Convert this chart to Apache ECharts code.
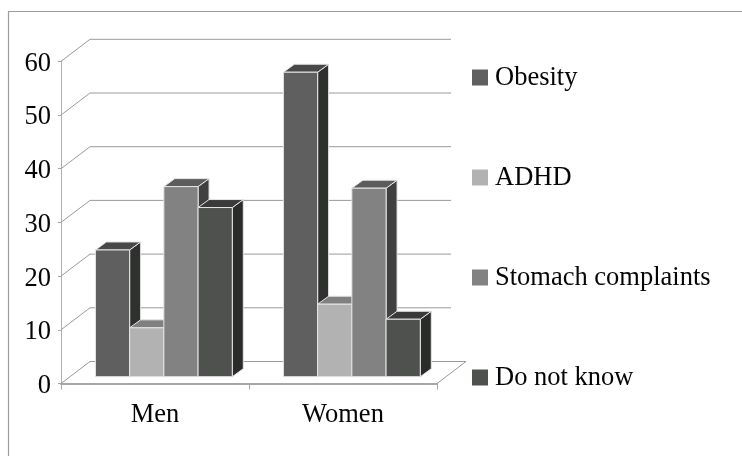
<!DOCTYPE html>
<html>
<head>
<meta charset="utf-8">
<style>html,body{margin:0;padding:0;background:#fff}#chart{width:742px;height:456px}</style>
<script src="https://cdn.jsdelivr.net/npm/echarts@6/dist/echarts.min.js"></script>
</head>
<body>
<div id="chart"></div>
<script>
// Survey answers by gender, percent of respondents
const categories = ['Men', 'Women'];
const yTicks = [0, 10, 20, 30, 40, 50, 60];
const seriesNames = ['Obesity', 'ADHD', 'Stomach complaints', 'Do not know'];
const obesity = [23.6, 56.7];
const adhd = [9.1, 13.5];
const stomachComplaints = [35.4, 35.1];
const doNotKnow = [31.5, 10.7];
const seriesValues = [obesity, adhd, stomachComplaints, doNotKnow];

// Face shades per series: front, top, side
const frontColors = ['#5f5f5f', '#b2b2b2', '#818281', '#4f514f'];
const topColors = ['#484848', '#808080', '#5c5c5c', '#3a3a3a'];
const sideColors = ['#2f312f', '#5a5a5a', '#404040', '#2a2c2a'];

const FONT = '"Liberation Serif", "Times New Roman", serif';
const LABEL_SIZE = 26.5;
const TEXT_COLOR = '#050505';
const WALL_DX = 29, WALL_DY = 22, WALL_END = 451;
const BAR_DX = 11, BAR_DY = 8;
const SHIFT_X = 8.85, SHIFT_Y = 6.8;
const BAR_RATIO = 0.182;

// Back wall gridlines and the floor outline, in oblique projection
function renderWall(params, api) {
  const cs = params.coordSys;
  const y = api.coord([0, api.value(1)])[1];
  const x0 = cs.x;
  const isFloor = api.value(1) === 0;
  const line = { stroke: '#9a9a9a', lineWidth: 1 };
  const children = [
    { type: 'polyline', shape: { points: [[x0, y], [x0 + WALL_DX, y - WALL_DY],
      [isFloor ? x0 + cs.width + WALL_DX : WALL_END, y - WALL_DY]] }, style: { fill: null, ...line } }
  ];
  if (isFloor) {
    children.push({ type: 'line', shape: { x1: x0 + cs.width, y1: y, x2: x0 + cs.width + WALL_DX, y2: y - WALL_DY }, style: line });
  }
  return { type: 'group', children };
}

// One box: front, top and side faces
function boxRenderer(index) {
  return function (params, api) {
    const cat = api.value(0);
    const top = api.coord([cat, api.value(1)]);
    const base = api.coord([cat, 0]);
    const w = api.size([1, 0])[0] * BAR_RATIO;
    const x = base[0] + SHIFT_X - 2 * w + index * w;
    const y = top[1] - SHIFT_Y;
    const b = base[1] - SHIFT_Y;
    const edge = { stroke: '#e6e6e6', lineWidth: 1, lineJoin: 'round' };
    return {
      type: 'group',
      children: [
        { type: 'polygon', shape: { points: [[x + w, y], [x + w + BAR_DX, y - BAR_DY], [x + w + BAR_DX, b - BAR_DY], [x + w, b]] },
          style: { fill: sideColors[index], ...edge } },
        { type: 'polygon', shape: { points: [[x, y], [x + BAR_DX, y - BAR_DY], [x + w + BAR_DX, y - BAR_DY], [x + w, y]] },
          style: { fill: topColors[index], ...edge } },
        { type: 'rect', shape: { x, y, width: w, height: b - y },
          style: { fill: frontColors[index], ...edge } }
      ]
    };
  };
}

const chart = echarts.init(document.getElementById('chart'), null, { renderer: 'canvas' });
chart.setOption({
  animation: false,
  backgroundColor: '#fff',
  color: frontColors,
  textStyle: { fontFamily: FONT },
  // Frame runs off the right and bottom of the page
  graphic: [{
    type: 'rect', silent: true, z: -1,
    shape: { x: 8.5, y: 11.5, width: 760, height: 480 },
    style: { fill: null, stroke: '#9c9c9c', lineWidth: 1.2 }
  }],
  grid: { left: 61, right: 305, top: 61.3, bottom: 72.5 },
  legend: {
    orient: 'vertical', left: 467, top: 60, icon: 'rect',
    itemWidth: 16, itemHeight: 16, itemGap: 73,
    data: seriesNames,
    formatter: '{t|{name}}',
    textStyle: {
      fontFamily: FONT, fontSize: LABEL_SIZE, color: TEXT_COLOR,
      rich: { t: { fontFamily: FONT, fontSize: LABEL_SIZE, color: TEXT_COLOR, padding: [2, 0, 0, 2] } }
    }
  },
  xAxis: {
    type: 'category', data: categories,
    axisLine: { lineStyle: { color: '#a6a6a6', width: 2 } },
    axisTick: { show: true, length: 6, lineStyle: { color: '#a6a6a6' } },
    axisLabel: { color: TEXT_COLOR, fontSize: LABEL_SIZE, fontFamily: FONT, margin: 18 }
  },
  yAxis: {
    type: 'value', min: 0, max: 60, interval: 10,
    splitLine: { show: false },
    axisLine: { show: true, lineStyle: { color: '#b0b0b0', width: 1 } },
    axisTick: { show: true, length: 3, lineStyle: { color: '#a6a6a6' } },
    axisLabel: {
      color: TEXT_COLOR, fontSize: LABEL_SIZE, fontFamily: FONT, margin: 10,
      formatter: '{d|{value}}',
      rich: { d: { fontSize: LABEL_SIZE, fontFamily: FONT, color: TEXT_COLOR, padding: [5, 0, 0, 0] } }
    }
  },
  series: [
    { type: 'custom', name: 'wall', silent: true, z: 1, renderItem: renderWall,
      data: yTicks.map(v => [0, v]), encode: { x: 0, y: 1 } },
    ...seriesNames.map((name, i) => ({
      type: 'custom', name, z: 2 + i, renderItem: boxRenderer(i),
      itemStyle: { color: frontColors[i] },
      data: seriesValues[i].map((v, c) => [c, v]), encode: { x: 0, y: 1 }
    }))
  ]
});
</script>
</body>
</html>
